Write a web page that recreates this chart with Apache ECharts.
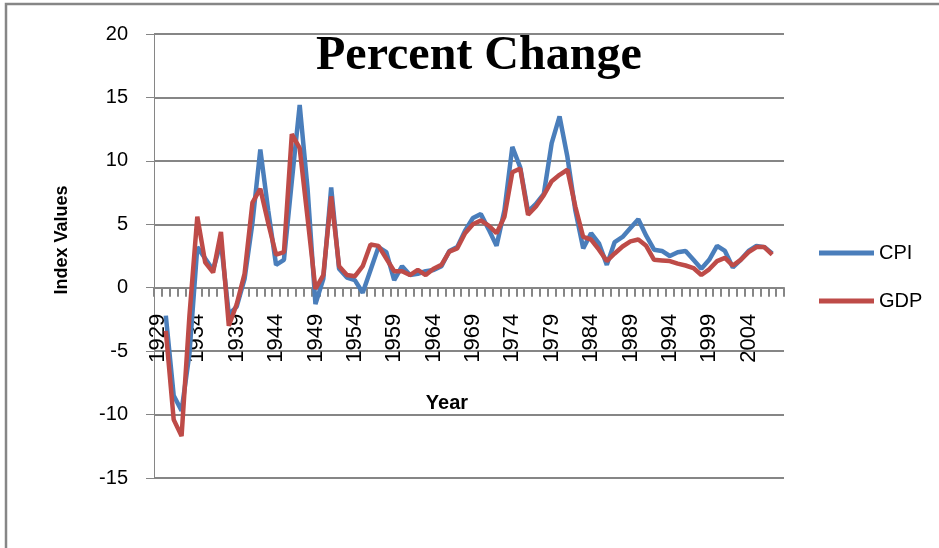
<!DOCTYPE html>
<html>
<head>
<meta charset="utf-8">
<script src="https://cdn.jsdelivr.net/npm/echarts@6/dist/echarts.min.js"></script>
<style>
  html, body { margin: 0; padding: 0; background: #fff; }
  #chart { width: 939px; height: 548px; }
</style>
</head>
<body>
<div id="chart"></div>
<script>
// years on the category axis (first and last year carry no value)
var years = ["1929","1930","1931","1932","1933","1934","1935","1936","1937","1938",
  "1939","1940","1941","1942","1943","1944","1945","1946","1947","1948",
  "1949","1950","1951","1952","1953","1954","1955","1956","1957","1958",
  "1959","1960","1961","1962","1963","1964","1965","1966","1967","1968",
  "1969","1970","1971","1972","1973","1974","1975","1976","1977","1978",
  "1979","1980","1981","1982","1983","1984","1985","1986","1987","1988",
  "1989","1990","1991","1992","1993","1994","1995","1996","1997","1998",
  "1999","2000","2001","2002","2003","2004","2005","2006","2007","2008"];

var cpi = [null, -2.2, -8.5, -9.7, -5.2, 3.2, 2.3, 1.4, 3.6, -2.1,
  -1.5, 0.7, 5.1, 10.9, 6.1, 1.8, 2.2, 8.4, 14.4, 7.8,
  -1.3, 0.7, 7.9, 1.5, 0.8, 0.6, -0.4, 1.4, 3.2, 2.8,
  0.6, 1.7, 1.0, 1.1, 1.3, 1.4, 1.7, 2.9, 3.2, 4.5,
  5.5, 5.8, 4.6, 3.3, 6.1, 11.1, 9.5, 6.0, 6.6, 7.4,
  11.4, 13.5, 10.3, 6.1, 3.1, 4.3, 3.5, 1.8, 3.6, 4.0,
  4.7, 5.4, 4.1, 3.0, 2.9, 2.5, 2.8, 2.9, 2.2, 1.5,
  2.2, 3.3, 2.9, 1.6, 2.2, 2.9, 3.3, 3.2, 2.7, null];

var gdp = [null, -3.4, -10.4, -11.7, -2.2, 5.6, 2.0, 1.2, 4.4, -3.0,
  -1.3, 1.1, 6.7, 7.8, 5.1, 2.6, 2.8, 12.1, 11.0, 5.5,
  -0.1, 1.0, 7.2, 1.7, 1.0, 0.9, 1.7, 3.4, 3.3, 2.3,
  1.3, 1.3, 1.0, 1.4, 1.0, 1.5, 1.8, 2.85, 3.1, 4.3,
  5.0, 5.3, 4.9, 4.3, 5.6, 9.1, 9.4, 5.75, 6.4, 7.3,
  8.4, 8.9, 9.3, 6.4, 4.0, 3.8, 3.0, 2.1, 2.7, 3.25,
  3.65, 3.8, 3.3, 2.2, 2.15, 2.1, 1.9, 1.75, 1.55, 1.0,
  1.45, 2.1, 2.35, 1.75, 2.2, 2.8, 3.2, 3.2, 2.6, null];

var chartDom = document.getElementById("chart");
var myChart = echarts.init(chartDom);
var option;

var gray = "#868686";
var font = "Liberation Sans";

option = {
  animation: false,
  title: {
    text: "Percent Change",
    left: 311,
    top: 28,
    textStyle: {
      fontFamily: "Liberation Serif",
      fontWeight: "bold",
      fontSize: 48,
      color: "#000"
    }
  },
  legend: {
    orient: "vertical",
    left: 814,
    top: 238,
    icon: "rect",
    itemWidth: 55,
    itemHeight: 5,
    itemGap: 28,
    textStyle: { fontFamily: font, fontSize: 20, color: "#000" },
    data: ["CPI", "GDP"]
  },
  grid: {
    left: 154,
    right: 155,
    top: 34,
    bottom: 70,
    outerBoundsMode: "none"
  },
  xAxis: {
    type: "category",
    data: years,
    boundaryGap: true,
    offset: 0,
    z: 0,
    axisLine: { show: true, onZero: false, lineStyle: { color: gray, width: 2 } },
    axisTick: { show: true, interval: 0, length: 9, lineStyle: { color: gray, width: 2 } },
    axisLabel: {
      interval: 4,
      rotate: 90,
      margin: 26,
      fontFamily: font,
      fontSize: 22,
      color: "#000"
    },
    splitLine: { show: false }
  },
  yAxis: {
    type: "value",
    min: -15,
    max: 20,
    interval: 5,
    z: 0,
    axisLine: { show: true, onZero: false, lineStyle: { color: gray, width: 1 } },
    axisTick: { show: true, length: 8, lineStyle: { color: gray } },
    axisLabel: { margin: 26, fontFamily: font, fontSize: 20, color: "#000" },
    splitLine: { lineStyle: { color: gray, width: 2 } }
  },
  graphic: [
    {
      type: "rect",
      shape: { x: 6, y: 4, width: 1200, height: 1200 },
      style: { fill: "none", stroke: gray, lineWidth: 2.5 },
      silent: true
    },
    {
      type: "text",
      x: 62,
      y: 240,
      rotation: Math.PI / 2,
      style: {
        text: "Index Values",
        fontFamily: font,
        fontWeight: "bold",
        fontSize: 18,
        fill: "#000",
        align: "center",
        verticalAlign: "middle"
      }
    },
    {
      type: "text",
      x: 447,
      y: 403,
      style: {
        text: "Year",
        fontFamily: font,
        fontWeight: "bold",
        fontSize: 20,
        fill: "#000",
        align: "center",
        verticalAlign: "middle"
      }
    }
  ],
  series: [
    {
      name: "CPI",
      type: "line",
      z: 5,
      data: cpi,
      symbol: "none",
      lineStyle: { color: "#4A7EBB", width: 4.5 },
      itemStyle: { color: "#4A7EBB" }
    },
    {
      name: "GDP",
      type: "line",
      z: 6,
      data: gdp,
      symbol: "none",
      lineStyle: { color: "#BE4B48", width: 4.5 },
      itemStyle: { color: "#BE4B48" }
    }
  ]
};

option && myChart.setOption(option);

// move the category axis up so that it crosses the value axis at 0 (as Excel does)
var zeroY = myChart.convertToPixel({ yAxisIndex: 0 }, 0);
var bottomY = myChart.convertToPixel({ yAxisIndex: 0 }, -15);
myChart.setOption({ xAxis: { offset: zeroY - bottomY } });
</script>
</body>
</html>
